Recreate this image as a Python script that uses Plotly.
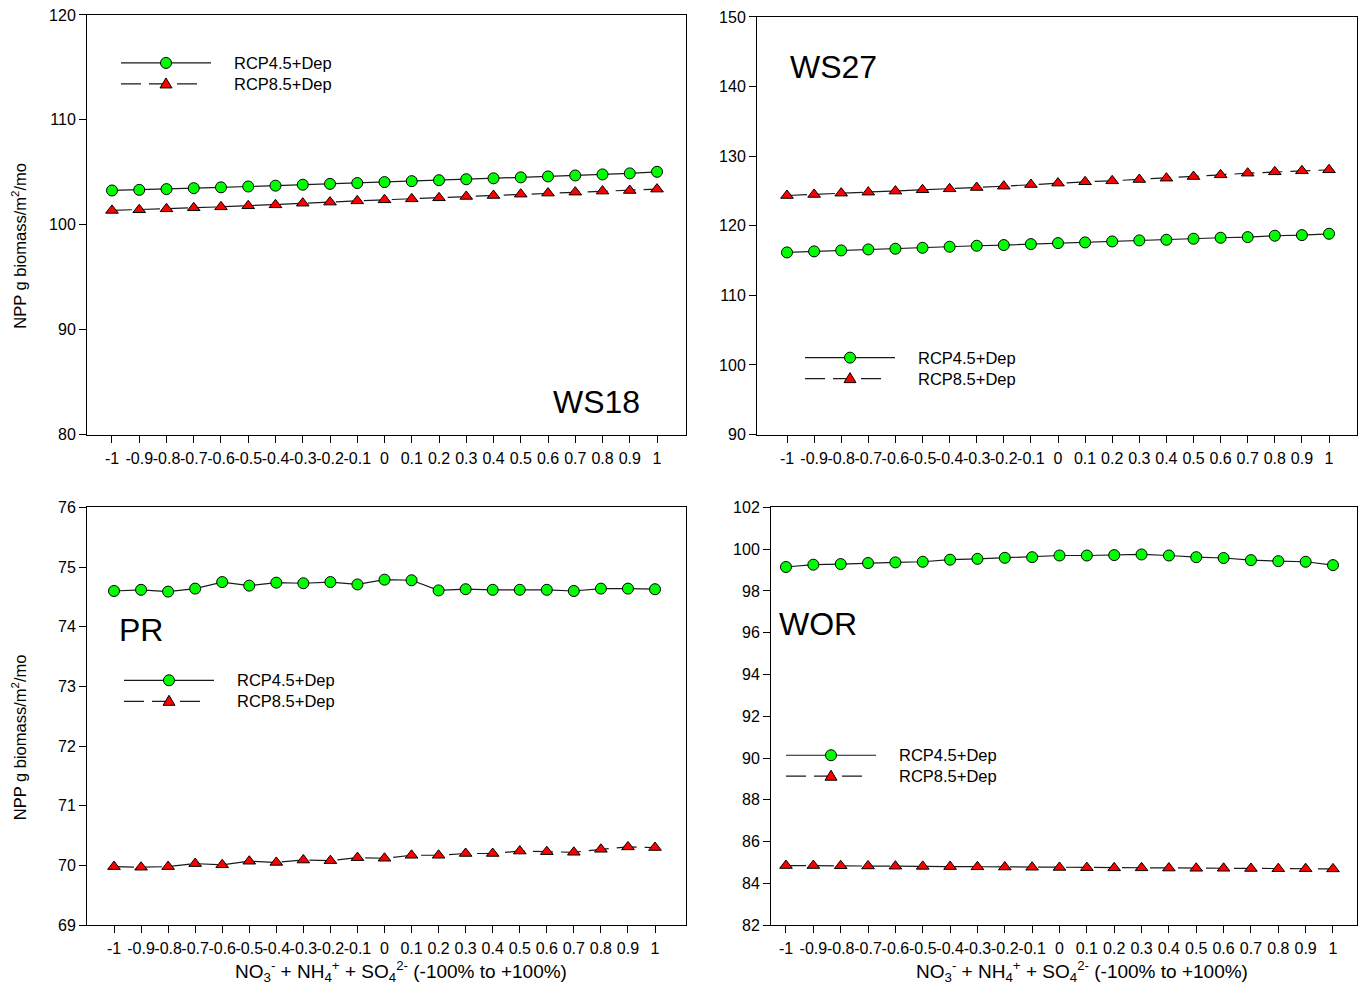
import plotly.graph_objects as go

# Relative change in N + S deposition (-100% .. +100%)
dep_change = [-1.0, -0.9, -0.8, -0.7, -0.6, -0.5, -0.4, -0.3, -0.2, -0.1, 0.0,
              0.1, 0.2, 0.3, 0.4, 0.5, 0.6, 0.7, 0.8, 0.9, 1.0]
tick_text = ["-1", "-0.9", "-0.8", "-0.7", "-0.6", "-0.5", "-0.4", "-0.3", "-0.2", "-0.1", "0",
             "0.1", "0.2", "0.3", "0.4", "0.5", "0.6", "0.7", "0.8", "0.9", "1"]

# NPP (g biomass/m2/mo) per watershed
ws18_rcp45 = [103.27, 103.33, 103.40, 103.49, 103.57, 103.65, 103.73, 103.82, 103.90, 103.98, 104.07,
              104.16, 104.25, 104.34, 104.43, 104.52, 104.61, 104.70, 104.80, 104.90, 105.05]
ws18_rcp85 = [101.37, 101.43, 101.52, 101.62, 101.71, 101.81, 101.90, 102.06, 102.16, 102.28, 102.38,
              102.47, 102.57, 102.70, 102.79, 102.92, 103.02, 103.11, 103.21, 103.27, 103.40]

ws27_rcp45 = [116.17, 116.32, 116.46, 116.60, 116.70, 116.84, 116.99, 117.13, 117.23, 117.37, 117.51,
              117.61, 117.75, 117.90, 117.99, 118.14, 118.28, 118.37, 118.57, 118.66, 118.85]
ws27_rcp85 = [124.35, 124.50, 124.69, 124.83, 124.98, 125.17, 125.31, 125.50, 125.69, 125.93, 126.13,
              126.32, 126.46, 126.65, 126.84, 127.08, 127.32, 127.56, 127.75, 127.90, 128.04]

pr_rcp45 = [74.60, 74.62, 74.59, 74.64, 74.75, 74.69, 74.74, 74.73, 74.75, 74.71, 74.79,
            74.78, 74.61, 74.63, 74.62, 74.62, 74.62, 74.60, 74.64, 74.64, 74.63]
pr_rcp85 = [69.98, 69.97, 69.98, 70.03, 70.01, 70.07, 70.05, 70.09, 70.08, 70.13, 70.12,
            70.17, 70.17, 70.20, 70.20, 70.24, 70.23, 70.22, 70.27, 70.31, 70.30]

wor_rcp45 = [99.15, 99.26, 99.29, 99.34, 99.37, 99.40, 99.50, 99.54, 99.59, 99.62, 99.70,
             99.70, 99.72, 99.75, 99.70, 99.62, 99.58, 99.48, 99.43, 99.40, 99.24]
wor_rcp85 = [84.85, 84.85, 84.84, 84.83, 84.82, 84.81, 84.80, 84.79, 84.78, 84.77, 84.76,
             84.75, 84.74, 84.74, 84.73, 84.72, 84.72, 84.71, 84.70, 84.70, 84.69]

W, H = 1366, 989
# vertical extent of the paper area inside the figure
PAPER_TOP, PAPER_H = 8, 973
FONT = "Liberation Sans, Arial, sans-serif"
LINE_COL = "#1a1a1a"
GREEN = "#00ff00"
RED = "#ff0000"
DASH = "20px,8px"


def px(x):
    """Figure x pixel -> paper fraction."""
    return x / W


def py(y):
    """Figure y pixel (from top) -> paper fraction."""
    return 1 - (y - PAPER_TOP) / PAPER_H


panels = [
    dict(name="WS18", a=ws18_rcp45, b=ws18_rcp85, xs=(87, 686), ys=(15, 435),
         xr=[-1.0917, 1.1064], yr=[80, 120], dt=10, lab=(596, 402), leg=(121, 63)),
    dict(name="WS27", a=ws27_rcp45, b=ws27_rcp85, xs=(757, 1357), ys=(17, 435),
         xr=[-1.1107, 1.1033], yr=[90, 150], dt=10, lab=(833, 67), leg=(805, 358)),
    dict(name="PR", a=pr_rcp45, b=pr_rcp85, xs=(87, 686), ys=(508, 926),
         xr=[-1.0998, 1.1146], yr=[69, 76], dt=1, lab=(141, 631), leg=(124, 681)),
    dict(name="WOR", a=wor_rcp45, b=wor_rcp85, xs=(771, 1357), ys=(508, 926),
         xr=[-1.0548, 1.0878], yr=[82, 102], dt=2, lab=(818, 625), leg=(786, 756)),
]

fig = go.Figure()
annotations = []
shapes = []

for i, p in enumerate(panels, start=1):
    sx = "" if i == 1 else str(i)
    xa, ya = "x" + sx, "y" + sx
    fig.add_trace(go.Scatter(
        x=dep_change, y=p["a"], xaxis=xa, yaxis=ya, mode="lines+markers",
        line=dict(color=LINE_COL, width=1.2),
        marker=dict(symbol="circle", size=11, color=GREEN, line=dict(color="black", width=1)),
        showlegend=False))
    fig.add_trace(go.Scatter(
        x=dep_change, y=p["b"], xaxis=xa, yaxis=ya, mode="lines+markers",
        line=dict(color=LINE_COL, width=1.2, dash=DASH),
        marker=dict(symbol="triangle-up", size=11, color=RED, line=dict(color="black", width=1)),
        showlegend=False))

    yt = []
    v = p["yr"][0]
    while v <= p["yr"][1] + 1e-9:
        yt.append(v)
        v += p["dt"]

    axis_common = dict(showline=True, linecolor="black", linewidth=1, mirror=True,
                       ticks="outside", ticklen=7, tickcolor="black", showgrid=False,
                       zeroline=False, tickfont=dict(family=FONT, size=16, color="black"))
    fig.layout["xaxis" + sx] = dict(
        domain=[px(p["xs"][0]), px(p["xs"][1])], range=p["xr"], anchor=ya,
        tickmode="array", tickvals=dep_change, ticktext=tick_text, tickangle=0,
        ticklabelstandoff=2, **axis_common)
    fig.layout["yaxis" + sx] = dict(
        domain=[py(p["ys"][1]), py(p["ys"][0])], range=p["yr"], anchor=xa,
        tickmode="array", tickvals=yt, ticktext=[str(t) for t in yt], **axis_common)

    # panel label
    annotations.append(dict(x=px(p["lab"][0]), y=py(p["lab"][1]), xref="paper", yref="paper",
                            text=p["name"], showarrow=False, xanchor="center", yanchor="middle",
                            font=dict(family=FONT, size=32, color="black")))

    # in-panel legend
    lx, ly = p["leg"]
    for k, (label, dash, sym) in enumerate([("RCP4.5+Dep", "solid", "circle"),
                                            ("RCP8.5+Dep", DASH, "triangle")]):
        yy = ly + 21 * k
        shapes.append(dict(type="line", xref="paper", yref="paper",
                           x0=px(lx), x1=px(lx + 90 if k == 0 else lx + 84), y0=py(yy), y1=py(yy),
                           line=dict(color=LINE_COL, width=1.2, dash=dash)))
        cx = lx + 45
        if sym == "circle":
            shapes.append(dict(type="circle", xref="paper", yref="paper",
                               xsizemode="pixel", ysizemode="pixel",
                               xanchor=px(cx), yanchor=py(yy), x0=-5.5, x1=5.5, y0=-5.5, y1=5.5,
                               fillcolor=GREEN, line=dict(color="black", width=1)))
        else:
            shapes.append(dict(type="path", xref="paper", yref="paper",
                               xsizemode="pixel", ysizemode="pixel",
                               xanchor=px(cx), yanchor=py(yy),
                               path="M -6 -4 L 6 -4 L 0 6 Z",
                               fillcolor=RED, line=dict(color="black", width=1)))
        annotations.append(dict(x=px(lx + 111), y=py(yy), xref="paper", yref="paper",
                                text=label, showarrow=False, xanchor="left", yanchor="middle",
                                font=dict(family=FONT, size=16.5, color="black")))

# axis titles
ytitle = "NPP g biomass/m<sup>2</sup>/mo"
for yc in (246, 738):
    annotations.append(dict(x=px(19), y=py(yc), xref="paper", yref="paper", text=ytitle,
                            textangle=-90, showarrow=False, xanchor="center", yanchor="middle",
                            font=dict(family=FONT, size=16.5, color="black")))
xtitle = "NO<sub>3</sub><sup>-</sup> + NH<sub>4</sub><sup>+</sup> + SO<sub>4</sub><sup>2-</sup> (-100% to +100%)"
for xc in (401, 1082):
    annotations.append(dict(x=px(xc), y=py(972), xref="paper", yref="paper", text=xtitle,
                            showarrow=False, xanchor="center", yanchor="middle",
                            font=dict(family=FONT, size=19, color="black")))

fig.update_layout(width=W, height=H, margin=dict(l=0, r=0, t=0, b=0),
                  paper_bgcolor="white", plot_bgcolor="white",
                  annotations=annotations, shapes=shapes,
                  font=dict(family=FONT, color="black"))

fig.write_html("out.html")
